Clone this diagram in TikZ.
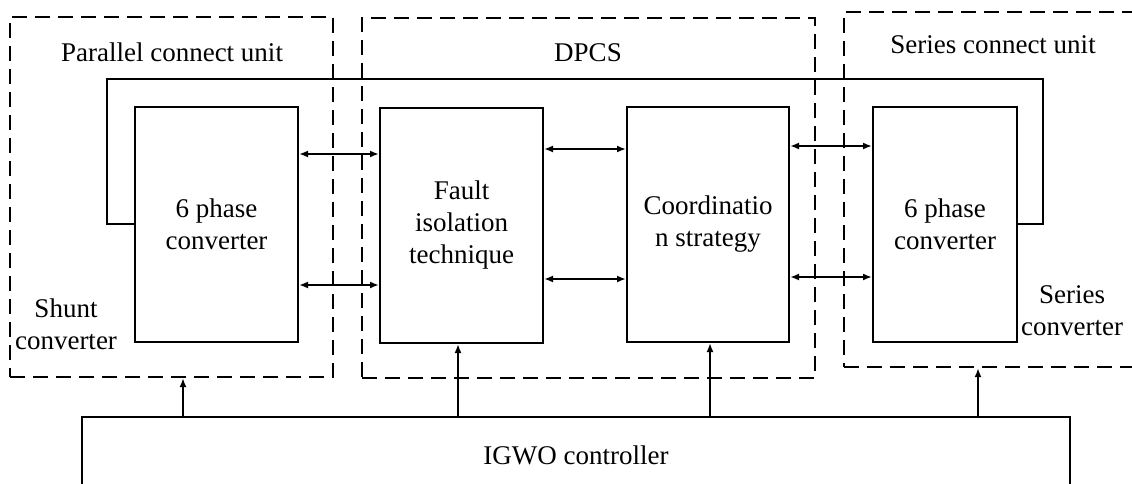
\documentclass[tikz,border=0pt]{standalone}
\usepackage{fontspec}
\setmainfont{Liberation Serif}
\usetikzlibrary{arrows.meta}
\begin{document}
\begin{tikzpicture}[x=1pt,y=-1pt,
  line width=2pt,
  every node/.style={font=\fontsize{27}{32}\selectfont, align=center, inner sep=0pt},
  blk/.style={draw, rectangle, line width=2pt},
  unit/.style={draw, rectangle, dash pattern=on 15pt off 8pt, line width=2.2pt},
  tip/.style={-{Latex[length=9pt,width=7pt]}},
  dtip/.style={{Latex[length=9pt,width=7pt]}-{Latex[length=9pt,width=7pt]}}
]
\useasboundingbox (0,0) rectangle (1132,484);
% dashed units
\node[unit, minimum width=323pt, minimum height=360pt] (par) at (171.5,197) {};
\node[unit, minimum width=453pt, minimum height=360pt] (dpcs) at (588.5,198) {};
\node[unit, minimum width=291pt, minimum height=355pt] (ser) at (989.5,189.5) {};
% unit titles
\node (tpar) at (172,52) {Parallel connect unit};
\node (tdpcs) at (588,53) {DPCS};
\node (tser) at (993,45) {Series connect unit};
\node (tshunt) at (66,324) {Shunt\\converter};
\node (tseries) at (1072,311) {Series\\converter};
% blocks
\node[blk, minimum width=163pt, minimum height=235pt] (lc) at (216.5,224.5) {6 phase\\converter};
\node[blk, minimum width=163pt, minimum height=235pt] (fi) at (461.5,225.5) {Fault\\isolation\\technique};
\node[blk, minimum width=162pt, minimum height=235pt] (cs) at (708,224.5) {Coordinatio\\n strategy};
\node[blk, minimum width=144pt, minimum height=235pt] (sc) at (945,224.5) {6 phase\\converter};
\node[blk, minimum width=988pt, minimum height=76pt] (igwo) at (576,455) {IGWO controller};
% loop line
\coordinate (la) at (107,224);
\coordinate (lb) at (107,79);
\coordinate (lcc) at (1043,79);
\coordinate (ld) at (1043,224);
\draw (lc.west |- la) -- (la) -- (lb) -- (lcc) -- (ld) -- (sc.east |- ld);
% bidirectional arrows
\coordinate (y1) at (0,154);
\coordinate (y2) at (0,285);
\coordinate (y3) at (0,149);
\coordinate (y4) at (0,279);
\coordinate (y5) at (0,146);
\coordinate (y6) at (0,277);
\draw[dtip] (lc.east |- y1) -- (fi.west |- y1);
\draw[dtip] (lc.east |- y2) -- (fi.west |- y2);
\draw[dtip] (fi.east |- y3) -- (cs.west |- y3);
\draw[dtip] (fi.east |- y4) -- (cs.west |- y4);
\draw[dtip] (cs.east |- y5) -- (sc.west |- y5);
\draw[dtip] (cs.east |- y6) -- (sc.west |- y6);
% controller arrows
\coordinate (x1) at (183,0);
\coordinate (x2) at (458,0);
\coordinate (x3) at (710,0);
\coordinate (x4) at (978,0);
\draw[tip] (igwo.north -| x1) -- (par.south -| x1);
\draw[tip] (igwo.north -| x2) -- (fi.south -| x2);
\draw[tip] (igwo.north -| x3) -- (cs.south -| x3);
\draw[tip] (igwo.north -| x4) -- (ser.south -| x4);
\end{tikzpicture}
\end{document}
